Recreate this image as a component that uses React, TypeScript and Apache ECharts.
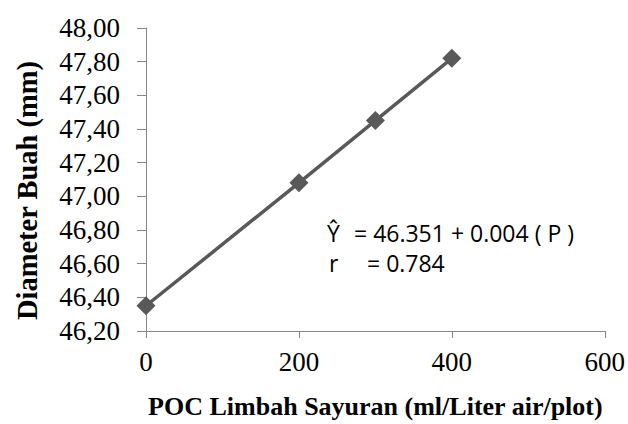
import React, { useEffect, useRef } from "react";
import * as echarts from "echarts";

const doses = [0, 200, 300, 400];
const diameters = [46.35, 47.08, 47.45, 47.82];
const xTitle = "POC Limbah Sayuran (ml/Liter air/plot)";
const yTitle = "Diameter Buah (mm)";
const eqLine1Left = "Ŷ";
const eqLine1Right = "= 46.351 + 0.004 ( P )";
const eqLine2Left = "r";
const eqLine2Right = "= 0.784";

export default function App() {
  const ref = useRef<HTMLDivElement>(null);
  useEffect(() => {
    if (!ref.current) return;
    const chart = echarts.init(ref.current, undefined, { renderer: "svg" });
    const serif = "Liberation Serif";
    const sans = "'Open Sans', 'Noto Sans', sans-serif";
    chart.setOption({
      animation: false,
      backgroundColor: "#ffffff",
      grid: { left: 146, right: 23, top: 28, bottom: 88 },
      xAxis: {
        type: "value",
        min: 0,
        max: 600,
        interval: 200,
        name: xTitle,
        nameLocation: "middle",
        nameGap: 62,
        nameTextStyle: { fontFamily: serif, fontWeight: "bold", fontSize: 26, color: "#000" },
        axisLine: { show: true, lineStyle: { color: "#868686", width: 1 } },
        axisTick: { show: true, length: 7, lineStyle: { color: "#868686" } },
        splitLine: { show: false },
        axisLabel: { fontFamily: serif, fontSize: 27, color: "#000", margin: 17 },
      },
      yAxis: {
        type: "value",
        min: 46.2,
        max: 48.0,
        interval: 0.2,
        name: yTitle,
        nameLocation: "middle",
        nameGap: 104,
        nameRotate: 90,
        nameTextStyle: {
          fontFamily: serif,
          fontWeight: "bold",
          fontSize: 28.5,
          color: "#000",
          padding: [0, 22, 0, 0],
        },
        axisLine: { show: true, lineStyle: { color: "#868686", width: 1 } },
        axisTick: { show: true, length: 9, lineStyle: { color: "#868686" } },
        splitLine: { show: false },
        axisLabel: {
          fontFamily: serif,
          fontSize: 27,
          color: "#000",
          margin: 26,
          formatter: (v: number) => v.toFixed(2).replace(".", ","),
        },
      },
      series: [
        {
          type: "line",
          data: doses.map((d, i) => [d, diameters[i]]),
          symbol: "diamond",
          symbolSize: 19,
          itemStyle: { color: "#595959" },
          lineStyle: { color: "#595959", width: 3.5 },
        },
      ],
      graphic: [
        { type: "text", left: 327, top: 221, style: { text: eqLine1Left, font: `23px ${sans}`, fill: "#000" } },
        { type: "text", left: 354, top: 221, style: { text: eqLine1Right, font: `23px ${sans}`, fill: "#000" } },
        { type: "text", left: 329, top: 251, style: { text: eqLine2Left, font: `23px ${sans}`, fill: "#000" } },
        { type: "text", left: 367, top: 251, style: { text: eqLine2Right, font: `23px ${sans}`, fill: "#000" } },
      ],
    });
    return () => chart.dispose();
  }, []);
  return <div ref={ref} style={{ position: "fixed", left: 0, top: 0, width: 628, height: 424 }} />;
}
